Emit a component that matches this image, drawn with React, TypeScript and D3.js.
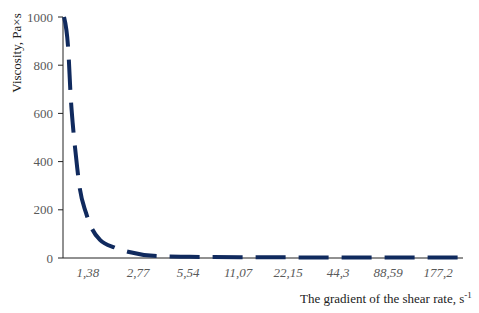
import * as d3 from "d3";
import { useEffect, useRef } from "react";

// shear rate (s^-1) and viscosity (Pa·s)
const rates = [0.99, 1.05, 1.086, 1.116, 1.152, 1.189, 1.223, 1.343, 1.453, 1.63, 2.007, 2.403, 3.59, 5.67, 11.35, 26.1, 52.2, 104.3, 246];
const viscosity = [1000, 863, 668, 560, 461, 373, 303, 187, 124, 75, 43, 26, 8, 5, 3.5, 2.5, 2, 2, 2];

const tickLabels = ["1,38", "2,77", "5,54", "11,07", "22,15", "44,3", "88,59", "177,2"];
const tickValues = [1.38, 2.77, 5.54, 11.07, 22.15, 44.3, 88.59, 177.2];
const yTicks = [0, 200, 400, 600, 800, 1000];

const W = 479;
const H = 313;
const margin = { top: 17, bottom: 55, left: 63, right: 16 };

const App = () => {
  const ref = useRef(null);

  useEffect(() => {
    const svg = d3.select(ref.current);
    svg.selectAll("*").remove();

    const bw = W - margin.left - margin.right;
    const bh = H - margin.top - margin.bottom;

    // ticks double each step and sit at equal spacing -> log2 scale
    const x = d3.scaleLog().base(2)
      .domain([1.38 / Math.SQRT2, 177.2 * Math.SQRT2])
      .range([0, bw]);
    const y = d3.scaleLinear().domain([0, 1000]).range([bh, 0]);

    const g = svg.append("g").attr("transform", `translate(${margin.left},${margin.top})`);

    // y axis
    g.append("line").attr("x1", 0).attr("x2", 0).attr("y1", 0).attr("y2", bh)
      .attr("stroke", "#222").attr("stroke-width", 1);
    g.selectAll(".yt").data(yTicks).enter().append("line")
      .attr("x1", -5).attr("x2", 0)
      .attr("y1", d => y(d)).attr("y2", d => y(d))
      .attr("stroke", "#222");
    g.selectAll(".yl").data(yTicks).enter().append("text")
      .attr("x", -10).attr("y", d => y(d) + 4.5)
      .attr("text-anchor", "end")
      .style("font-family", "'Liberation Serif', serif")
      .style("font-size", "13px")
      .style("fill", "#595959")
      .text(d => d);

    // x axis
    g.append("line").attr("x1", 0).attr("x2", bw).attr("y1", bh).attr("y2", bh)
      .attr("stroke", "#222").attr("stroke-width", 1);
    g.selectAll(".xl").data(tickValues).enter().append("text")
      .attr("x", d => x(d)).attr("y", bh + 19)
      .attr("text-anchor", "middle")
      .style("font-family", "'Liberation Serif', serif")
      .style("font-size", "13px")
      .style("font-style", "italic")
      .style("fill", "#595959")
      .text((d, i) => tickLabels[i]);

    // data line
    const pts = rates.map((r, i) => [r, viscosity[i]]);
    const line = d3.line()
      .x(d => x(d[0]))
      .y(d => y(d[1]))
      .curve(d3.curveMonotoneX);
    g.append("path")
      .datum(pts)
      .attr("d", line)
      .attr("fill", "none")
      .attr("stroke", "#102a5e")
      .attr("stroke-width", 4)
      .attr("stroke-dasharray", "30,13");

    // titles
    svg.append("text")
      .attr("transform", `translate(21,53) rotate(-90)`)
      .attr("text-anchor", "middle")
      .style("font-family", "'Liberation Serif', serif")
      .style("font-size", "13px")
      .style("fill", "#222")
      .text("Viscosity, Pa×s");

    const t = svg.append("text")
      .attr("x", 300).attr("y", 303)
      .style("font-family", "'Liberation Serif', serif")
      .style("font-size", "13px")
      .style("fill", "#222");
    t.append("tspan").text("The gradient of the shear rate, s");
    t.append("tspan").attr("dy", -5).style("font-size", "9px").text("-1");
  }, []);

  return (
    <div style={{ position: "absolute", left: 0, top: 0 }}>
      <svg ref={ref} width={W} height={H} style={{ display: "block", background: "#fff" }}></svg>
    </div>
  );
};

export default App;
